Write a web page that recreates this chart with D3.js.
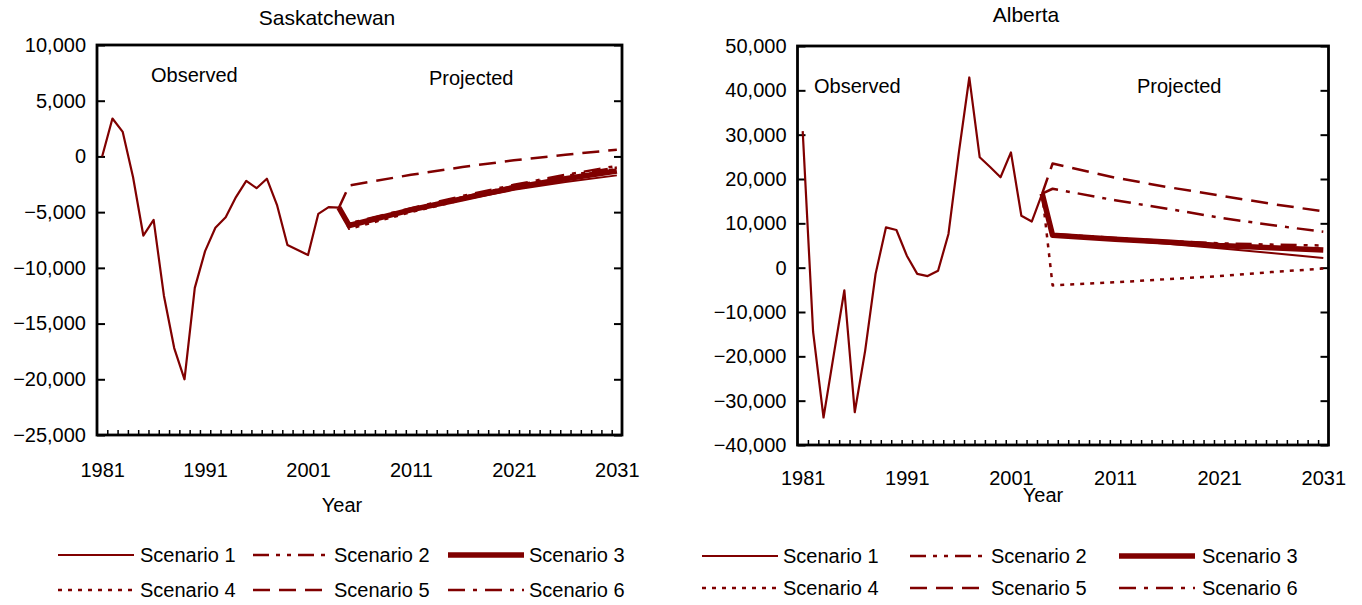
<!DOCTYPE html>
<html>
<head>
<meta charset="utf-8">
<script src="https://cdn.jsdelivr.net/npm/d3@7"></script>
<style>
  html, body { margin: 0; padding: 0; background: #fff; }
  svg { display: block; font-family: "Liberation Sans", Arial, sans-serif; }
  text { fill: #000; }
</style>
</head>
<body>
<svg id="chart" width="1362" height="605"></svg>
<script>
// ---------------- DATA ----------------
const observedYears = [1981,1982,1983,1984,1985,1986,1987,1988,1989,1990,1991,1992,
                       1993,1994,1995,1996,1997,1998,1999,2000,2001,2002,2003,2004];
const projectedYears = [2005, 2011, 2016, 2021, 2026, 2031];
const xTickLabels = [1981, 1991, 2001, 2011, 2021, 2031];

// Saskatchewan
const skObserved = [0, 3400, 2200, -1850, -7100, -5700, -12500, -17200, -20000, -11800, -8500, -6400,
                    -5450, -3650, -2200, -2850, -2000, -4400, -7950, -8400, -8850, -5150, -4550, -4600];
const skScenario1 = [-6100, -4850, -3900, -3000, -2300, -1700];
const skScenario2 = [-6250, -4750, -3650, -2650, -1750, -1000];
const skScenario3 = [-6200, -4800, -3800, -2800, -2000, -1300];
const skScenario4 = [-6500, -5000, -3900, -2850, -1950, -1100];
const skScenario5 = [-2600, -1650, -950, -350, 150, 600];
const skScenario6 = [-6000, -4650, -3550, -2550, -1650, -850];
const skYTicks = [10000, 5000, 0, -5000, -10000, -15000, -20000, -25000];

// Alberta
const abObserved = [30800, -14500, -33800, -19400, -5100, -32600, -18700, -1400, 9100, 8500, 2700, -1400,
                    -1900, -700, 7600, 26000, 42900, 24900, 22700, 20400, 26000, 11700, 10400, 16700];
const abScenario1 = [7300, 6300, 5400, 4400, 3300, 2200];
const abScenario2 = [7600, 6700, 6000, 5500, 5200, 5000];
const abScenario3 = [7300, 6400, 5800, 5000, 4500, 4000];
const abScenario4 = [-4000, -3300, -2600, -1900, -1000, -200];
const abScenario5 = [23500, 20300, 18200, 16300, 14400, 12700];
const abScenario6 = [17800, 15200, 13300, 11300, 9600, 8100];
const abYTicks = [50000, 40000, 30000, 20000, 10000, 0, -10000, -20000, -30000, -40000];

const scenarioNames = ["Scenario 1", "Scenario 2", "Scenario 3", "Scenario 4", "Scenario 5", "Scenario 6"];

// ---------------- STYLE ----------------
const lineColor = "#800000";
const scenarioStyle = [
  { width: 2,   dash: null },
  { width: 2.5, dash: "16,7,4,7,4,7" },
  { width: 5.5, dash: null },
  { width: 2.5, dash: "4,6" },
  { width: 2.5, dash: "17,9" },
  { width: 2.5, dash: "17,8,4,8" }
];
const fontSize = 20;

const svg = d3.select("#chart");

function drawPanel(cfg) {
  const g = svg.append("g");
  const { left, right, top, bottom } = cfg.box;

  const x = d3.scaleLinear().domain([1980.5, 2031.5]).range([left, right]);
  const y = d3.scaleLinear().domain([cfg.yMin, cfg.yMax]).range([bottom, top]);

  // frame
  g.append("rect")
    .attr("x", left).attr("y", top)
    .attr("width", right - left).attr("height", bottom - top)
    .attr("fill", "none").attr("stroke", "#000").attr("stroke-width", 2.8);

  // bottom minor ticks at category boundaries (inward)
  const boundaries = d3.range(1981.5, 2031.5, 1);
  const xAxisTicks = d3.axisBottom(x).tickValues(boundaries).tickSize(-5).tickFormat("");
  const gx = g.append("g").attr("transform", `translate(0,${bottom})`).call(xAxisTicks);
  gx.select(".domain").remove();
  gx.selectAll("line").attr("stroke", "#000").attr("stroke-width", 1.5);

  // bottom labels
  const xAxisLabels = d3.axisBottom(x).tickValues(xTickLabels).tickSize(0).tickPadding(cfg.xLabelPad).tickFormat(d3.format("d"));
  const gxl = g.append("g").attr("transform", `translate(0,${bottom})`).call(xAxisLabels);
  gxl.select(".domain").remove();
  gxl.selectAll("text").attr("font-size", fontSize).attr("font-family", "Liberation Sans, Arial, sans-serif");

  // left axis
  const yAxis = d3.axisLeft(y).tickValues(cfg.yTicks).tickSize(-8).tickPadding(11).tickFormat(d3.format(","));
  const gy = g.append("g").attr("transform", `translate(${left},0)`).call(yAxis);
  gy.select(".domain").remove();
  gy.selectAll("line").attr("stroke", "#000").attr("stroke-width", 2);
  gy.selectAll("text").attr("font-size", fontSize).attr("font-family", "Liberation Sans, Arial, sans-serif");

  // right axis ticks
  const yAxisR = d3.axisRight(y).tickValues(cfg.yTicks).tickSize(-8).tickFormat("");
  const gyr = g.append("g").attr("transform", `translate(${right},0)`).call(yAxisR);
  gyr.select(".domain").remove();
  gyr.selectAll("line").attr("stroke", "#000").attr("stroke-width", 2);

  // lines
  const line = d3.line().x(d => x(d[0])).y(d => y(d[1]));
  const obsPts = cfg.observed.map((v, i) => [observedYears[i], v]);
  const lastObs = obsPts[obsPts.length - 1];

  const order = [2, 0, 1, 3, 4, 5];
  order.forEach(si => {
    const pts = [lastObs].concat(cfg.scenarios[si].map((v, i) => [projectedYears[i], v]));
    const st = scenarioStyle[si];
    g.append("path")
      .attr("d", line(pts))
      .attr("fill", "none")
      .attr("stroke", lineColor)
      .attr("stroke-width", st.width)
      .attr("stroke-dasharray", st.dash)
      .attr("stroke-linejoin", "round");
  });

  g.append("path")
    .attr("d", line(obsPts))
    .attr("fill", "none")
    .attr("stroke", lineColor)
    .attr("stroke-width", 2.2)
    .attr("stroke-linejoin", "round");

  // title
  g.append("text").attr("x", cfg.title.x).attr("y", cfg.title.y)
    .attr("text-anchor", "middle").attr("font-size", 21).text(cfg.title.text);

  // annotations
  cfg.notes.forEach(n => {
    g.append("text").attr("x", n.x).attr("y", n.y).attr("font-size", fontSize).text(n.text);
  });

  // axis title
  g.append("text").attr("x", cfg.xTitle.x).attr("y", cfg.xTitle.y)
    .attr("text-anchor", "middle").attr("font-size", fontSize).text("Year");

  // legend
  const lg = g.append("g");
  scenarioNames.forEach((name, i) => {
    const col = i % 3, row = Math.floor(i / 3);
    const L = cfg.legend;
    const x0 = L.lineX[col], x1 = L.lineX[col] + L.lineLen;
    const yy = L.rowY[row];
    const st = scenarioStyle[i];
    lg.append("line")
      .attr("x1", x0).attr("x2", x1).attr("y1", yy).attr("y2", yy)
      .attr("stroke", lineColor)
      .attr("stroke-width", st.width)
      .attr("stroke-dasharray", st.dash);
    lg.append("text")
      .attr("x", L.textX[col]).attr("y", yy)
      .attr("dy", "0.35em")
      .attr("font-size", fontSize).text(name);
  });
}

drawPanel({
  box: { left: 97, right: 622, top: 45, bottom: 435 },
  yMin: -25000, yMax: 10000,
  yTicks: skYTicks,
  xLabelPad: 28,
  observed: skObserved,
  scenarios: [skScenario1, skScenario2, skScenario3, skScenario4, skScenario5, skScenario6],
  title: { text: "Saskatchewan", x: 327, y: 25 },
  notes: [ { text: "Observed", x: 151, y: 82 }, { text: "Projected", x: 429, y: 85 } ],
  xTitle: { x: 342, y: 512 },
  legend: { lineX: [58, 253, 448], lineLen: 76, textX: [140, 334, 529], rowY: [555, 590] }
});

drawPanel({
  box: { left: 797.5, right: 1328.5, top: 46, bottom: 445 },
  yMin: -40000, yMax: 50000,
  yTicks: abYTicks,
  xLabelPad: 26,
  observed: abObserved,
  scenarios: [abScenario1, abScenario2, abScenario3, abScenario4, abScenario5, abScenario6],
  title: { text: "Alberta", x: 1026, y: 22 },
  notes: [ { text: "Observed", x: 814, y: 93 }, { text: "Projected", x: 1137, y: 93 } ],
  xTitle: { x: 1043, y: 502 },
  legend: { lineX: [702, 910, 1119], lineLen: 76, textX: [783, 991, 1202], rowY: [556, 588] }
});
</script>
</body>
</html>
